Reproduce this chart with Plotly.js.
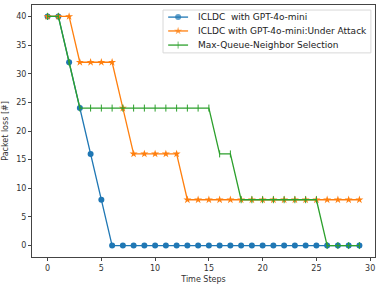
<!DOCTYPE html>
<html><head><meta charset="utf-8">
<script src="https://cdn.plot.ly/plotly-3.0.1.min.js"></script>
<style>body{margin:0;background:#fff}#c{width:381px;height:286px}</style>
</head><body><div id="c"></div>
<script>
const steps = Array.from({length:30},(_,i)=>i);
const iclcd = [40,40,32,24,16,8,0,0,0,0,0,0,0,0,0,0,0,0,0,0,0,0,0,0,0,0,0,0,0,0];
const iclcdAttack = [40,40,40,32,32,32,32,24,16,16,16,16,16,8,8,8,8,8,8,8,8,8,8,8,8,8,8,8,8,8];
const maxQueue = [40,40,32,24,24,24,24,24,24,24,24,24,24,24,24,24,16,16,8,8,8,8,8,8,8,8,0,0,0,0];
const names = ['ICLDC  with GPT-4o-mini','ICLDC with GPT-4o-mini:Under Attack','Max-Queue-Neighbor Selection'];
const colors = ['#1f77b4','#ff7f0e','#2ca02c'];
const symbols = ['circle','star','line-ns-open'];
const sizes = [6,6,5];
const lw = [0,0,1];
const series = [iclcd, iclcdAttack, maxQueue];

const traces = series.map((ys,i)=>({
  x:steps, y:ys, name:names[i], mode:'lines+markers', showlegend:false,
  line:{color:colors[i],width:1.3},
  marker:{symbol:symbols[i], size:sizes[i], color:colors[i], line:{color:colors[i],width:lw[i]}}
}));

// custom compact legend (matplotlib-like spacing)
const legRows = [0.952,0.897,0.841];
const annotations = [];
series.forEach((_,i)=>{
  traces.push({x:[0.397,0.426,0.455],y:[legRows[i],legRows[i],legRows[i]],xaxis:'x2',yaxis:'y2',
    mode:'lines+markers',showlegend:false,hoverinfo:'skip',
    line:{color:colors[i],width:1.3},
    marker:{symbol:symbols[i],size:[0,sizes[i],0],color:colors[i],line:{color:colors[i],width:lw[i]}}});
  annotations.push({xref:'paper',yref:'paper',x:0.478,y:legRows[i],xanchor:'left',yanchor:'middle',
    text:names[i].replace(/  /g,'&nbsp; '),showarrow:false,font:{size:9,color:'#222'}});
});

const ax = {showgrid:false,zeroline:false,showline:true,mirror:true,linecolor:'#444',linewidth:1,ticks:'outside',ticklen:3,tickcolor:'#444',tickfont:{size:8,color:'#333'}};
const hid = {visible:false,range:[0,1],domain:[0,1],fixedrange:true};
const layout = {
 width:381,height:286,margin:{l:32,r:6,t:5,b:29},
 font:{family:'DejaVu Sans',size:8,color:'#333'},
 paper_bgcolor:'#fff',plot_bgcolor:'rgba(0,0,0,0)',
 xaxis:Object.assign({},ax,{range:[-1.45,30.45],tickvals:[0,5,10,15,20,25,30],title:{text:'Time Steps',font:{size:8},standoff:4}}),
 yaxis:Object.assign({},ax,{range:[-2,42],tickvals:[0,5,10,15,20,25,30,35,40],title:{text:'Packet loss [#]',font:{size:8},standoff:6}}),
 xaxis2:Object.assign({},hid,{anchor:'y2',overlaying:'x'}),
 yaxis2:Object.assign({},hid,{anchor:'x2',overlaying:'y'}),
 shapes:[{type:'rect',xref:'paper',yref:'paper',x0:0.382,x1:0.988,y0:0.81,y1:0.98,
   fillcolor:'rgba(255,255,255,0.85)',line:{color:'#d8d8d8',width:1},layer:'below'}],
 annotations:annotations,
 showlegend:false
};
Plotly.newPlot('c',traces,layout,{staticPlot:true,displayModeBar:false});
</script></body></html>
